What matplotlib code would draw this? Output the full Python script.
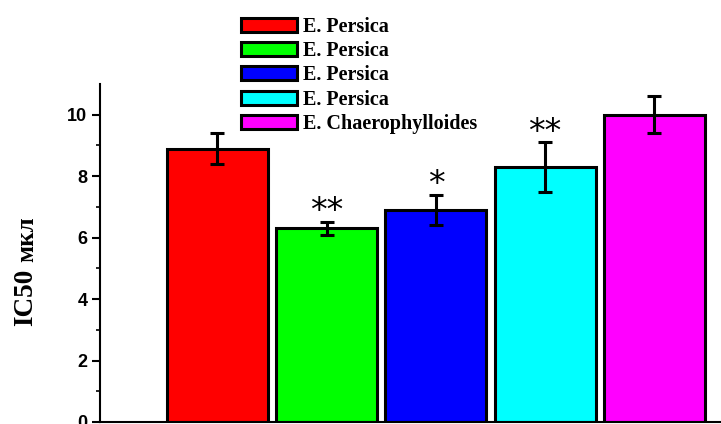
import numpy as np
import matplotlib
matplotlib.use("Agg")
import matplotlib.pyplot as plt

# data
labels = ["E. Persica", "E. Persica", "E. Persica", "E. Persica", "E. Chaerophylloides"]
values = [8.9, 6.3, 6.9, 8.3, 10.0]
errors = [0.5, 0.2, 0.5, 0.8, 0.6]
colors = ["#ff0000", "#00ff00", "#0000ff", "#00ffff", "#ff00ff"]
stars = ["", "**", "*", "**", ""]

fig = plt.figure(figsize=(7.21, 4.24), dpi=100)
ax = fig.add_axes([100 / 721, 2 / 424, 621 / 721, 338 / 424])

x = np.arange(len(values))
bars = ax.bar(x, values, width=0.925, color=colors, edgecolor="black",
              linewidth=2.2, label=labels)
ax.errorbar(x, values, yerr=errors, fmt="none", ecolor="black",
            elinewidth=2.2, capsize=5, capthick=2.2)

# significance marks above the error bars
for xi, v, e, s in zip(x, values, errors, stars):
    if s:
        ax.text(xi, v + e - 0.2, s, ha="center", va="bottom",
                fontsize=24, family="DejaVu Sans")

ax.set_xlim(-1.075, 4.61)
ax.set_ylim(0, 11.0)
ax.set_yticks([0, 2, 4, 6, 8, 10])
ax.set_yticks([1, 3, 5, 7, 9], minor=True)
ax.set_xticks([])
for lab in ax.get_yticklabels():
    lab.set_fontweight("bold")
    lab.set_family("Liberation Sans")
    lab.set_fontsize(13)
ax.tick_params(axis="y", which="major", length=6, width=1.5, direction="out", pad=3)
ax.tick_params(axis="y", which="minor", length=3, width=1.2, direction="out")
ax.spines["top"].set_visible(False)
ax.spines["right"].set_visible(False)
ax.spines["left"].set_linewidth(1.5)
ax.spines["bottom"].set_linewidth(1.5)

# y label: "IC50" big, "мкл" smaller
fig.text(26 / 721, 1 - 297 / 424, "IC50", rotation=90, ha="center", va="center",
         family="Liberation Serif", fontweight="bold", fontsize=19.5)
fig.text(27 / 721, 1 - 239 / 424, "мкл", rotation=90, ha="center", va="center",
         family="Liberation Serif", fontweight="bold", fontsize=18)

leg = fig.legend(handles=list(bars), labels=labels, loc="upper left",
                 bbox_to_anchor=(241 / 721, 1 - 17 / 424), frameon=False,
                 prop={"family": "Liberation Serif", "weight": "bold", "size": 14.5},
                 handlelength=2.8, handleheight=0.7, handletextpad=0.3,
                 labelspacing=0.21, borderpad=0, borderaxespad=0)

fig.savefig("out.png", dpi=100)
